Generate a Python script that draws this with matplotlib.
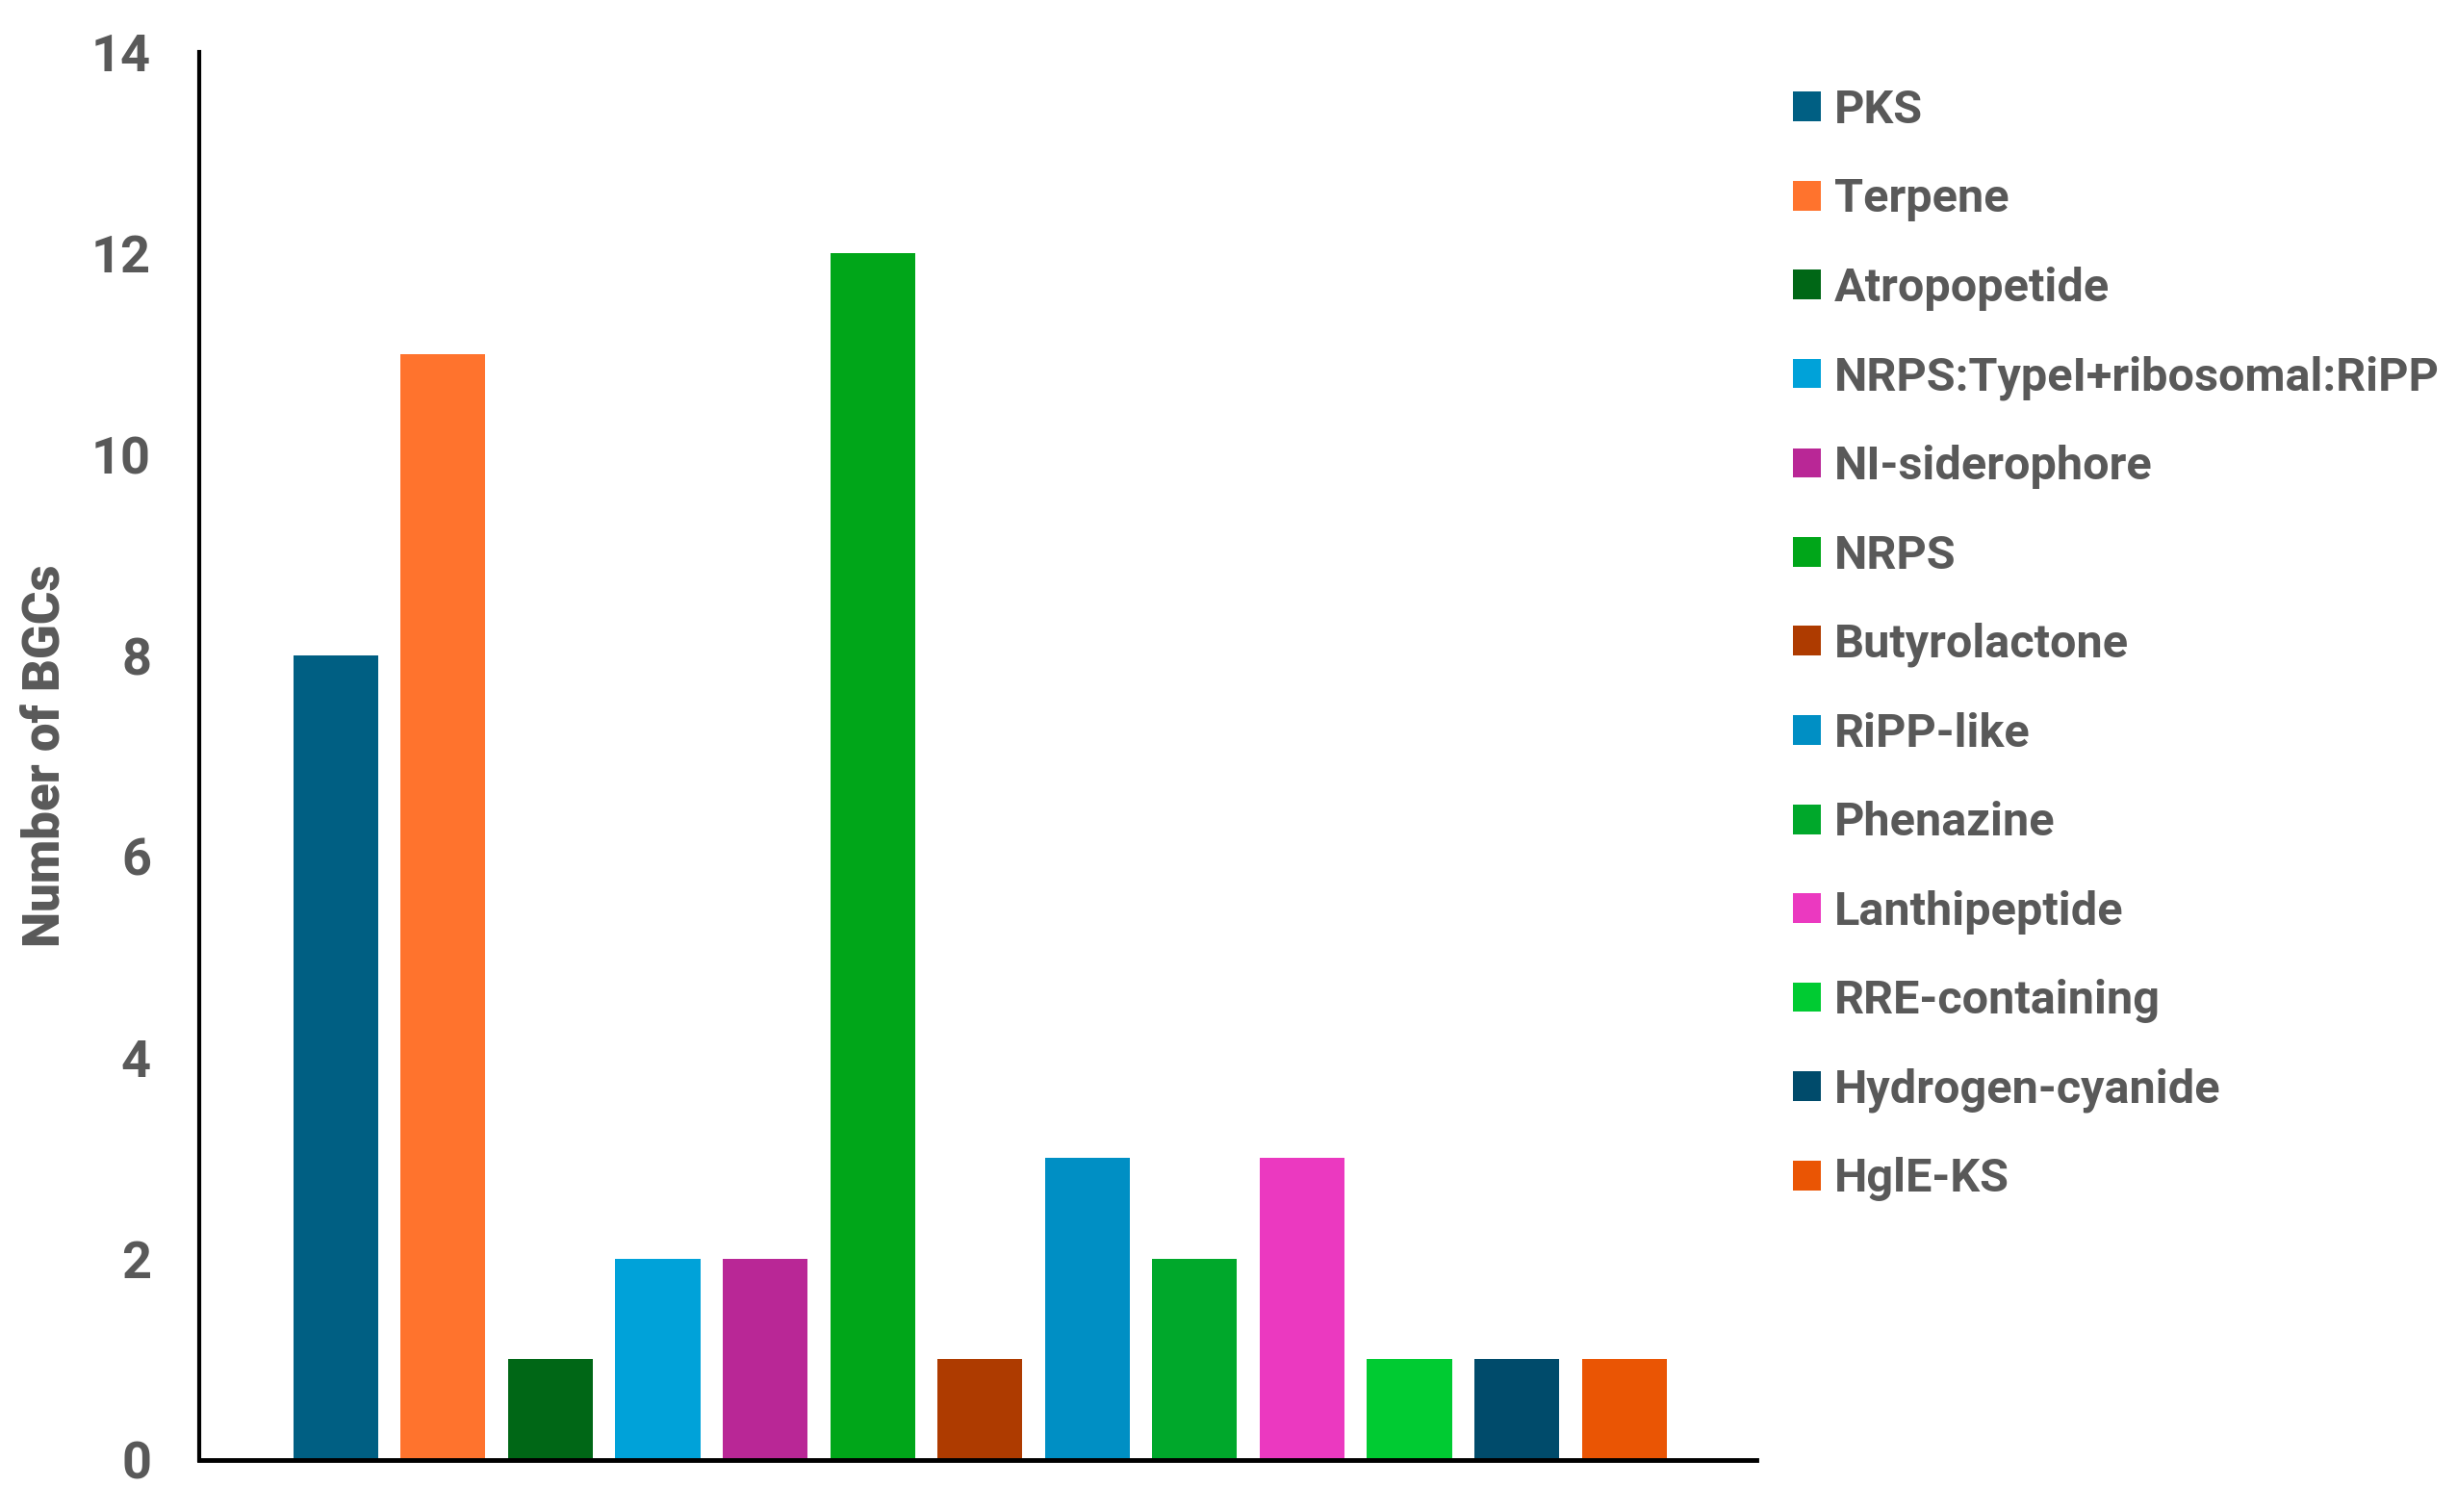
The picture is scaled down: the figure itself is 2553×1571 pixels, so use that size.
import matplotlib
matplotlib.use("Agg")
import matplotlib.pyplot as plt
from matplotlib.patches import Patch

categories = ["PKS", "Terpene", "Atropopetide", "NRPS:TypeI+ribosomal:RiPP",
              "NI-siderophore", "NRPS", "Butyrolactone", "RiPP-like", "Phenazine",
              "Lanthipeptide", "RRE-containing", "Hydrogen-cyanide", "HglE-KS"]
values = [8, 11, 1, 2, 2, 12, 1, 3, 2, 3, 1, 1, 1]
colors = ["#005F83", "#FF732D", "#006716", "#00A2D9", "#B92796", "#00A619",
          "#AE3B00", "#008FC4", "#00A82B", "#EB39C0", "#00CB32", "#004B6B", "#EA5504"]
yticks = [0, 2, 4, 6, 8, 10, 12, 14]
ylabel = "Number of BGCs"

TEXT = "#595959"
plt.rcParams['font.family'] = ['Roboto', 'DejaVu Sans']
plt.rcParams['font.weight'] = 'bold'

fig = plt.figure(figsize=(25.53, 15.71), dpi=100)
ax = fig.add_axes([0.0811, 0.0344, 0.6337, 0.9312])

x = list(range(len(categories)))
ax.bar(x, values, width=0.79, color=colors)

ax.set_xlim(-1.27, len(categories) - 1 + 1.23)
ax.set_ylim(0, 14)
ax.set_yticks(yticks)
ax.set_yticklabels([str(t) for t in yticks], fontsize=39, fontweight='bold', color=TEXT)
ax.tick_params(axis='y', length=0, pad=36)
ax.set_xticks([])

for s in ['top', 'right']:
    ax.spines[s].set_visible(False)
ax.spines['left'].set_linewidth(3)
ax.spines['bottom'].set_linewidth(3.5)

ax.set_ylabel(ylabel, fontsize=38, fontweight='heavy', color=TEXT, labelpad=16)

handles = [Patch(facecolor=c, edgecolor='none', label=l) for c, l in zip(colors, categories)]
leg = fig.legend(handles=handles, loc='upper left', bbox_to_anchor=(0.7297, 0.9415),
                 frameon=False, fontsize=35, handlelength=0.6, handleheight=0.6,
                 handletextpad=0.28, labelspacing=0.955, borderaxespad=0, borderpad=0)
for t in leg.get_texts():
    t.set_color(TEXT)
    t.set_fontweight('bold')

fig.savefig("out.png", dpi=100)
